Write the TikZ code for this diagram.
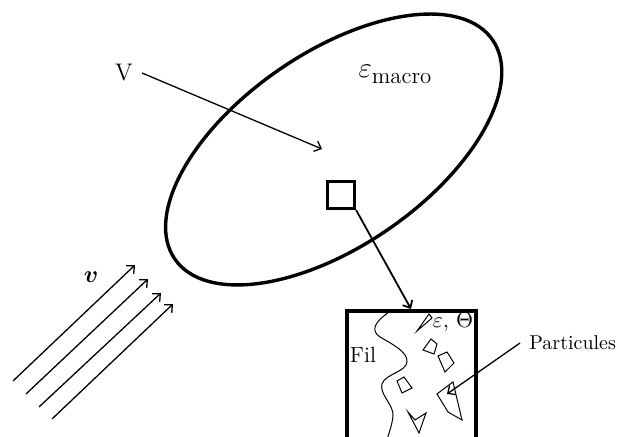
\documentclass[tikz,border=0pt]{standalone}
\usepackage{amsmath}
\usetikzlibrary{arrows.meta}
\begin{document}
\begin{tikzpicture}[x=0.5pt,y=-0.5pt,
  thin line/.style={line width=0.65pt},
  fine/.style={line width=0.5pt},
  tip/.style={-{Straight Barb[length=3pt,width=5.5pt]}},
  lbl/.style={inner sep=0pt, font=\fontsize{10}{12}\selectfont}]
\useasboundingbox (0,0) rectangle (617,437);
% ellipse
\begin{scope}[shift={(333.7,149.5)}, rotate=34.6]
\draw[line width=1.7pt] (0,0) ellipse [x radius=193, y radius=96.7];
\end{scope}
% V label and arrow
\node[lbl, font=\fontsize{12}{14}\selectfont] (V) at (124,73) {V};
\coordinate (Vend) at (322,149);
\draw[thin line, tip] (142,73) -- (Vend);
% epsilon macro
\node[inner sep=0pt] (emac) at (395,74) {{\fontsize{14}{16}\selectfont$\varepsilon$}\raisebox{-3pt}{\fontsize{11.4}{13}\selectfont macro}};
% small square
\node[draw, line width=1.35pt, minimum size=13.8pt, inner sep=0pt] (sq) at (341,195) {};
% box
\draw[line width=1.6pt] (347,440) -- (347,311) -- (476,311) -- (476,440);
\coordinate (boxtop) at (411,309);
\draw[line width=0.9pt, tip] (sq.south east) -- (boxtop);
% fil
\node[lbl, font=\fontsize{11}{13}\selectfont] (fil) at (363,355) {Fil};
\draw[fine] (389,312) .. controls (375,322) and (370,330) .. (380,337)
  .. controls (392,344) and (408,352) .. (407,362)
  .. controls (406,372) and (385,374) .. (382,384)
  .. controls (379,394) and (394,405) .. (393,416)
  .. controls (392,426) and (389,432) .. (387,440);
% epsilon theta
\node[lbl, font=\fontsize{10.5}{12}\selectfont] (et) at (453,322) {$\varepsilon$, $\Theta$};
% particles
\draw[fine] (417,331) -- (429,314) -- (432,318) -- cycle;
\draw[fine] (423,350) -- (431,339) -- (437,344) -- (434,354) -- cycle;
\draw[fine] (438,356) -- (447,352) -- (454,363) -- (445,372) -- cycle;
\draw[fine] (397,381) -- (404,377) -- (412,388) -- (402,393) -- cycle;
\coordinate (bigp) at (447,394);
\draw[fine] (437,394) -- (453,382) -- (462,420) -- (448,412) -- cycle;
\draw[fine] (408,412) -- (415,420) -- (426,413) -- (419,433) -- cycle;
% particules label
\node[lbl, anchor=west] (part) at (529,343) {Particules};
\draw[thin line, tip] (part.west) ++(-9,0) -- (bigp);
% velocity
\node[inner sep=0pt] (v) at (91,277) {\fontsize{13}{15}\selectfont$\boldsymbol{v}$};
\foreach \a/\b/\c/\d in {13/381/135/265, 26/394/148/279, 39/407/161/293, 52/419/173/304}
  \draw[thin line, tip] (\a,\b) -- (\c,\d);
\end{tikzpicture}
\end{document}
